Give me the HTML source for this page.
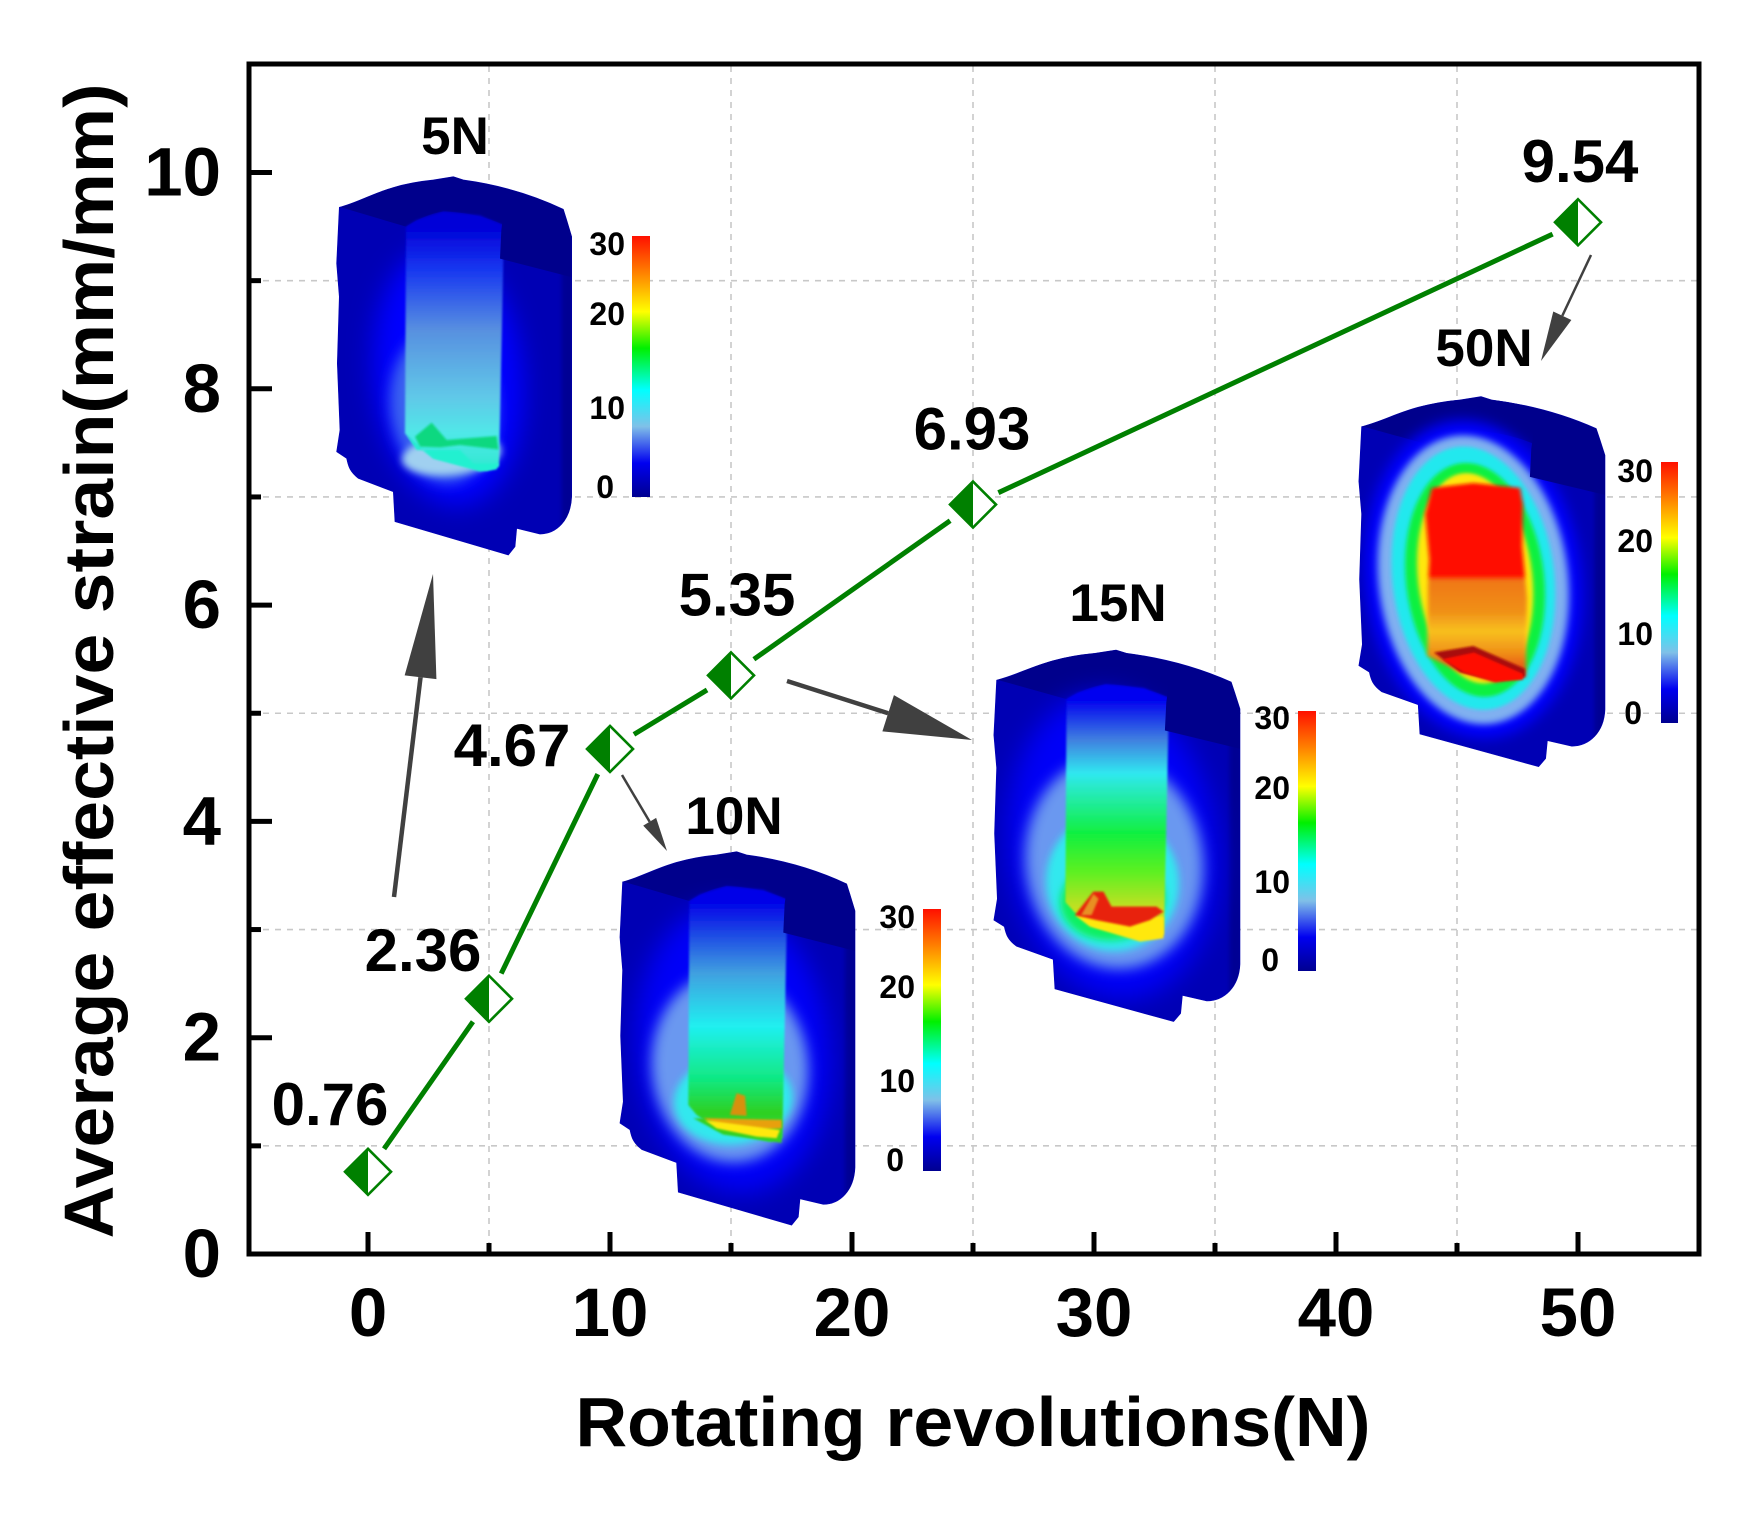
<!DOCTYPE html>
<html><head><meta charset="utf-8"><title>Average effective strain vs rotating revolutions</title>
<style>
html,body{margin:0;padding:0;background:#fff}
svg{display:block}
text{font-family:"Liberation Sans",sans-serif;font-weight:bold;fill:#000}
</style></head>
<body>
<svg id="chart" xmlns="http://www.w3.org/2000/svg" width="1755" height="1519" viewBox="0 0 1755 1519">
<defs>
<filter id="b3" x="-30%" y="-30%" width="160%" height="160%"><feGaussianBlur stdDeviation="3"/></filter>
<filter id="b6" x="-30%" y="-30%" width="160%" height="160%"><feGaussianBlur stdDeviation="6"/></filter>
<filter id="b12" x="-40%" y="-40%" width="180%" height="180%"><feGaussianBlur stdDeviation="11"/></filter>
<filter id="b20" x="-40%" y="-40%" width="180%" height="180%"><feGaussianBlur stdDeviation="20"/></filter>
<filter id="b40" x="-50%" y="-50%" width="200%" height="200%"><feGaussianBlur stdDeviation="38"/></filter>
<linearGradient id="jet" x1="0" y1="0" x2="0" y2="1">
<stop offset="0" stop-color="#ff1000"/><stop offset=".14" stop-color="#ff8000"/><stop offset=".29" stop-color="#ffff00"/>
<stop offset=".43" stop-color="#00f000"/><stop offset=".59" stop-color="#00ffff"/><stop offset=".73" stop-color="#80c0e8"/>
<stop offset=".87" stop-color="#0000f0"/><stop offset="1" stop-color="#000090"/>
</linearGradient>
<clipPath id="model-clip"><path d="M118 232C200 210 250 165 400 150L460 140 490 150C600 165 700 195 790 238L800 270 815 320 815 1100C812 1170 770 1212 720 1212L650 1195 645 1250 625 1275 285 1175 280 1085 175 1045C150 1025 145 1010 140 985L110 965 120 900 112 700 118 500 110 400Z"/></clipPath>
</defs>
<g id="grid"></g>
<g id="insets"></g>
<g id="series"></g>
<rect x="249" y="64" width="1450" height="1190" fill="none" stroke="#000" stroke-width="5"/>
<g id="ticks"></g>
<g id="arrows"></g>
<text x="973" y="1446" font-size="70" text-anchor="middle" textLength="795" lengthAdjust="spacingAndGlyphs">Rotating revolutions(N)</text>
<text transform="translate(113,661) rotate(-90)" font-size="70" text-anchor="middle" textLength="1155" lengthAdjust="spacingAndGlyphs">Average effective strain(mm/mm)</text>
<text x="455" y="154" font-size="53" text-anchor="middle">5N</text>
<text x="734" y="834" font-size="53" text-anchor="middle">10N</text>
<text x="1118" y="621" font-size="53" text-anchor="middle">15N</text>
<text x="1484" y="366" font-size="53" text-anchor="middle">50N</text>
</svg>
<script>
const revolutions = [0, 5, 10, 15, 25, 50];
const strainValues = [0.76, 2.36, 4.67, 5.35, 6.93, 9.54];
const printedValues = ["0.76", "2.36", "4.67", "5.35", "6.93", "9.54"];
const xMajorTicks = [0, 10, 20, 30, 40, 50];
const xMinorTicks = [5, 15, 25, 35, 45];
const yMajorTicks = [0, 2, 4, 6, 8, 10];
const yMinorTicks = [1, 3, 5, 7, 9];
const scaleLabels = ["30", "20", "10", "0"];

const NS = "http://www.w3.org/2000/svg";
const xAxis = v => 368 + 24.2 * v;
const yAxis = v => 1254 - 108.15 * v;
function mk(tag, attrs, parent) {
  const e = document.createElementNS(NS, tag);
  for (const k in attrs) e.setAttribute(k, attrs[k]);
  parent.appendChild(e);
  return e;
}
const $ = id => document.getElementById(id);

/* grid */
xMinorTicks.forEach(v => {
  const l = mk("line", {x1: xAxis(v), x2: xAxis(v), y1: 66, y2: 1252, stroke: "#c8c8c8", "stroke-width": 1.6, "stroke-dasharray": "6 6"}, $("grid"));
  
  
});
yMinorTicks.forEach(v => {
  const l = mk("line", {x1: 251, x2: 1697, y1: yAxis(v), y2: yAxis(v), stroke: "#c8c8c8", "stroke-width": 1.6, "stroke-dasharray": "6 6"}, $("grid"));
  
  
});

/* ticks */
xMajorTicks.forEach(v => {
  const l = mk("line", {x1: xAxis(v), x2: xAxis(v), y1: 1254, y2: 1232, stroke: "#000", "stroke-width": 5}, $("ticks"));
  
  
  const t = mk("text", {x: xAxis(v), y: 1336, "font-size": 69, "text-anchor": "middle"}, $("ticks"));
  t.textContent = v;
  
  
});
xMinorTicks.forEach(v => {
  const l = mk("line", {x1: xAxis(v), x2: xAxis(v), y1: 1254, y2: 1243, stroke: "#000", "stroke-width": 5}, $("ticks"));
  
  
});
yMajorTicks.forEach(v => {
  const l = mk("line", {x1: 249, x2: 272, y1: yAxis(v), y2: yAxis(v), stroke: "#000", "stroke-width": 5}, $("ticks"));
  
  
  const t = mk("text", {x: 221, y: yAxis(v) + 23, "font-size": 69, "text-anchor": "end"}, $("ticks"));
  t.textContent = v;
  
  
});
yMinorTicks.forEach(v => {
  const l = mk("line", {x1: 249, x2: 261, y1: yAxis(v), y2: yAxis(v), stroke: "#000", "stroke-width": 5}, $("ticks"));
  
  
});

/* FEM inset illustrations */
const OUTLINE = "M118 232C200 210 250 165 400 150L460 140 490 150C600 165 700 195 790 238L800 270 815 320 815 1100C812 1170 770 1212 720 1212L650 1195 645 1250 625 1275 285 1175 280 1085 175 1045C150 1025 145 1010 140 985L110 965 120 900 112 700 118 500 110 400Z";
const TOPFACE = "M100 225C200 205 250 160 400 145L460 135 490 145C600 160 700 190 800 230L825 320 825 444 610 385 620 290C560 258 480 245 430 245C390 250 350 270 318 290Z";
const CAVITY = "318,290 350,270 430,245 540,256 620,290 610,385 597,1010 560,1022 400,985 340,940 315,910";
const insetSpecs = [
 {name:"5n", a:300, b:130, sx:1, sy:1,
  halos:[["#0000ff",445,740,225,390,"b40"],["#3a62f0",430,830,160,230,"b20"],["#a0d0f0",455,975,150,60,"b12"]],
  cav:[[290,"#0000d8"],[420,"#1838f0"],[600,"#5890e0"],[800,"#60c8e8"],[910,"#50e8e8"],[1020,"#30e8d0"]],
  extras:[["#20f0d0","320,915 350,960 480,960 520,1000 595,1000 590,1018 540,1025 400,985"],["#10d880","345,920 395,878 440,930 590,918 595,958 480,945 420,952 360,950"]],
  bar:[632,236,18,261], lab:[625,[244,314,408,487]]},
 {name:"15n", a:955.5, b:604.2, sx:1.047, sy:.982,
  halos:[["#0000f8",450,740,300,470,"b40"],["#6a98f0",455,790,255,325,"b20"],["#30e8ee",450,850,190,210,"b12"],["#10f060",450,905,150,122,"b12"]],
  cav:[[290,"#0000f0"],[415,"#4080e0"],[517,"#30e8f0"],[700,"#10f040"],[822,"#60f020"],[924,"#c0e020"],[1030,"#f0e010"]],
  extras:[["#ffe810","342,950 596,955 596,1021 529,1031 385,985"],["#e8200c","342,950 395,878 424,878 447,924 576,924 596,939 557,965 500,985 404,965"],["#e89020","360,950 395,885 410,900 390,950"]],
  bar:[1298,711,18,260], lab:[1290,[718,788,882,960]]},
 {name:"10n", a:583.3, b:805.6, sx:1, sy:.987,
  halos:[["#0000f8",450,740,290,440,"b40"],["#6a98f0",440,795,235,290,"b20"],["#30e8ee",450,895,178,135,"b12"]],
  cav:[[290,"#0000e8"],[510,"#40a0e0"],[672,"#20f0f0"],[834,"#10e880"],[935,"#30d020"],[1030,"#20e060"]],
  extras:[["#30d020","330,950 595,960 595,1025 420,1000"],["#e8a010","360,950 595,955 595,981 520,986 420,976"],["#ffe810","365,956 590,986 580,1011 520,1006 400,981"],["#d89010","440,940 460,874 485,882 490,943"]],
  bar:[923,909,18,262], lab:[915,[917,987,1081,1160]]},
 {name:"50n", a:1320.5, b:351, sx:1.047, sy:.978,
  halos:[["#0000ff",438,700,310,490,"b20"],["#80b0f0",438,702,272,445,"b12"],["#20e8ee",438,697,232,405,"b6"],["#10f040",443,702,198,360,"b6"],["#ffe810",443,697,164,324,"b6"]],
  cavBlur:"b6",
  cav:[[400,"#ff1000"],[690,"#ff1000"],[705,"#f07818"],[800,"#f09018"],[860,"#f8c020"],[925,"#f09018"],[1020,"#e02010"]],
  extras:[["#a80c0c","325,925 438,905 586,975 586,1000 500,1010 400,985"],["#ff1000","350,945 440,925 580,990 580,1008 500,1014 410,985"]],
  custom:"306,935 308,720 312,640 300,500 319,420 438,405 572,420 580,470 578,600 592,760 588,1000 500,1016 400,985"
  ,bar:[1661,462,17,261], lab:[1653,[471,541,634,713]]}
];
insetSpecs.forEach(s => {
  const root = mk("g", {}, $("insets"));
  
  
  const g = mk("g", {transform: `translate(${s.a},${s.b}) scale(${s.sx/3},${s.sy/3})`}, root);
  const body = mk("path", {d: OUTLINE, fill: "#0000b4", stroke: "#0000b4", "stroke-width": 2}, g);
  
  
  const inner = mk("g", {"clip-path": "url(#model-clip)"}, g);
  mk("path", {d: TOPFACE, fill: "#00008c"}, inner);
  mk("rect", {x: 785, y: 420, width: 50, height: 800, fill: "#000094", filter: "url(#b6)"}, inner);
  s.halos.forEach(h => {
    mk("ellipse", {fill: h[0], cx: h[1], cy: h[2], rx: h[3], ry: h[4], filter: `url(#${h[5]})`, transform: `rotate(-6 ${h[1]} ${h[2]})`}, inner);
  });
  const gid = "cav-" + s.name;
  const defs = mk("linearGradient", {id: gid, gradientUnits: "userSpaceOnUse", x1: 0, x2: 0, y1: 290, y2: 1020}, $("chart").querySelector("defs"));
  s.cav.forEach(c => mk("stop", {offset: (c[0] - 290) / 730, "stop-color": c[1]}, defs));
  mk("polygon", {points: s.custom || CAVITY, fill: `url(#${gid})`, filter: `url(#${s.cavBlur || "b3"})`}, inner);
  s.extras.forEach(x => mk("polygon", {points: x[1], fill: x[0], filter: "url(#b3)"}, inner));
  mk("polygon", {points: "612,240 800,270 825,320 825,444 600,386 604,300", fill: "#00008c"}, inner);
  const bar = mk("rect", {x: s.bar[0], y: s.bar[1], width: s.bar[2], height: s.bar[3], fill: "url(#jet)"}, root);
  
  
  scaleLabels.forEach((txt, i) => {
    const t = mk("text", {x: s.lab[0] - (txt === "0" ? 11 : 0), y: s.lab[1][i] + 11, "font-size": 32, "text-anchor": "end"}, root);
    t.textContent = txt;
    
    
  });
});

/* series line with gaps near markers */
const GREEN = "#008000", GAP = 28;
for (let i = 0; i < revolutions.length - 1; i++) {
  const x1 = xAxis(revolutions[i]), y1 = yAxis(strainValues[i]);
  const x2 = xAxis(revolutions[i + 1]), y2 = yAxis(strainValues[i + 1]);
  const d = Math.hypot(x2 - x1, y2 - y1), ux = (x2 - x1) / d, uy = (y2 - y1) / d;
  const seg = mk("line", {x1: x1 + ux * GAP, y1: y1 + uy * GAP, x2: x2 - ux * GAP, y2: y2 - uy * GAP, stroke: GREEN, "stroke-width": 5}, $("series"));
  
  
}
const labelOffsets = [[-38, -47], [-66, -28], [-98, 17], [6, -60], [-1, -55], [2, -40]];
revolutions.forEach((r, i) => {
  const cx = xAxis(r), cy = yAxis(strainValues[i]), R = 23;
  const m = mk("g", {}, $("series"));
  
  
  mk("polygon", {points: `${cx},${cy-R} ${cx+R},${cy} ${cx},${cy+R} ${cx-R},${cy}`, fill: "#fff", stroke: GREEN, "stroke-width": 2.6}, m);
  mk("polygon", {points: `${cx},${cy-R} ${cx},${cy+R} ${cx-R},${cy}`, fill: GREEN}, m);
  const o = labelOffsets[i];
  const t = mk("text", {x: cx + o[0], y: cy + o[1], "font-size": 60, "text-anchor": "middle"}, $("series"));
  t.textContent = printedValues[i];
  
  
});

/* annotation arrows */
function arrow(x1, y1, x2, y2, headLen, headWidth, w) {
  const d = Math.hypot(x2 - x1, y2 - y1), ux = (x2 - x1) / d, uy = (y2 - y1) / d;
  const bx = x2 - ux * headLen, by = y2 - uy * headLen;
  const g = mk("g", {}, $("arrows"));
  
  
  mk("line", {x1, y1, x2: bx, y2: by, stroke: "#404040", "stroke-width": w}, g);
  mk("polygon", {points: `${x2},${y2} ${bx - uy * headWidth / 2},${by + ux * headWidth / 2} ${bx + uy * headWidth / 2},${by - ux * headWidth / 2}`, fill: "#404040"}, g);
}
arrow(394, 897, 433, 574, 104, 32, 4.5);
arrow(622, 775, 667, 851, 34, 15, 2.5);
arrow(787, 681, 972, 740, 88, 38, 4.5);
arrow(1591, 255, 1541, 361, 50, 20, 2.5);
</script>
</body></html>
